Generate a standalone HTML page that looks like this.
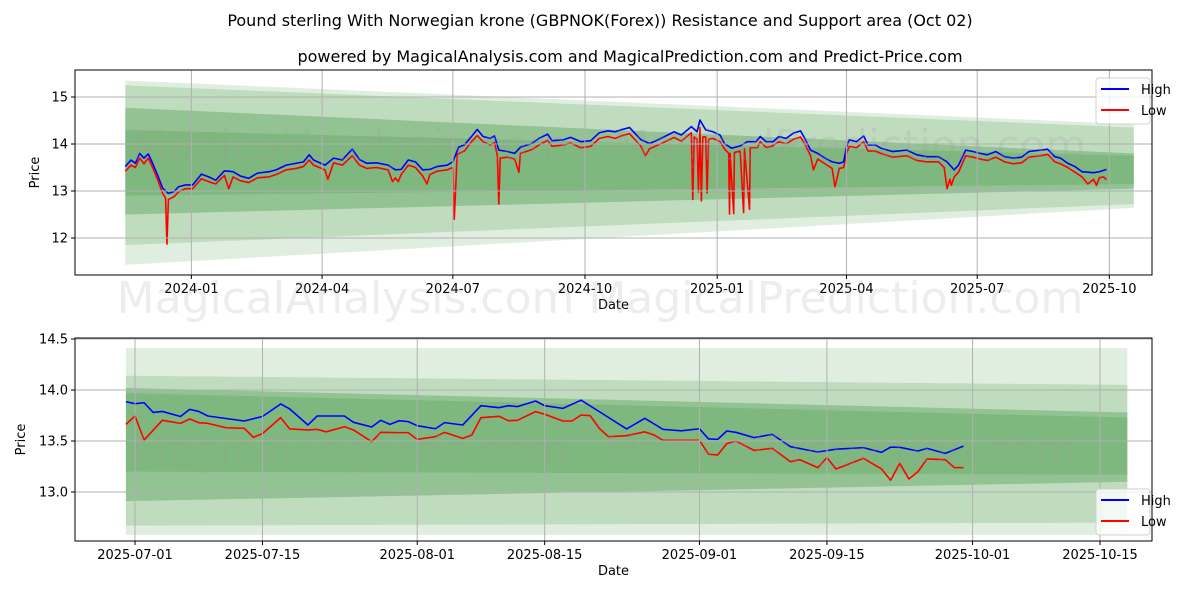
<!DOCTYPE html>
<html><head><meta charset="utf-8"><style>
body{margin:0;background:#fff;}
svg text{font-family:"DejaVu Sans","Liberation Sans",sans-serif;}
</style></head><body>
<svg id="chart" width="1200" height="600" viewBox="0 0 1200 600" xmlns="http://www.w3.org/2000/svg">
<text x="600" y="26" text-anchor="middle" font-size="16" fill="#000">Pound sterling With Norwegian krone (GBPNOK(Forex)) Resistance and Support area (Oct 02)</text>
<text x="630" y="62" text-anchor="middle" font-size="16" fill="#000">powered by MagicalAnalysis.com and MagicalPrediction.com and Predict-Price.com</text>
<g id="top"></g>
<g id="bottom"></g>
<text x="600" y="313" text-anchor="middle" font-size="44" fill="#999" fill-opacity="0.18">MagicalAnalysis.com   MagicalPrediction.com</text>
</svg>
<script>
// ---- top chart data (day offsets from 2023-11-16) ----
const topHighDays=[0,4,7,10,13,16,19,23,26,30,34,37,42,47,53,58,63,69,75,80,86,92,100,105,112,119,124,128,131,139,145,151,158,163,168,175,183,188,192,197,202,207,212,217,224,228,232,236,241,245,249,254,257,260,266,271,275,283,288,294,297,305,310,317,324,330,336,341,346,351,359,365,371,382,387,394,398,400,404,409,414,417,422,428,433,439,442,446,451,455,460,465,470,473,477,482,487,492,497,500,502,504,509,514,517,522,526,534,544,551,558,566,572,577,580,585,590,595,600,606,612,618,624,629,637,642,647,651,656,661,666,674,678,683];
const topHighVals=[13.52,13.66,13.59,13.80,13.70,13.79,13.59,13.30,13.06,12.95,12.99,13.09,13.13,13.13,13.36,13.30,13.23,13.43,13.41,13.32,13.27,13.38,13.41,13.45,13.55,13.59,13.62,13.77,13.66,13.55,13.70,13.66,13.89,13.67,13.59,13.60,13.55,13.45,13.46,13.66,13.62,13.45,13.46,13.52,13.55,13.62,13.93,13.98,14.16,14.31,14.16,14.12,14.17,13.87,13.84,13.80,13.93,14.01,14.12,14.21,14.07,14.09,14.14,14.05,14.07,14.24,14.28,14.26,14.31,14.35,14.09,14.01,14.09,14.26,14.19,14.37,14.26,14.51,14.30,14.26,14.19,14.01,13.91,13.96,14.05,14.05,14.16,14.05,14.05,14.16,14.12,14.23,14.28,14.12,13.87,13.80,13.70,13.62,13.59,13.62,13.94,14.09,14.05,14.17,13.98,13.98,13.91,13.84,13.87,13.77,13.73,13.73,13.62,13.45,13.55,13.87,13.84,13.80,13.77,13.84,13.73,13.70,13.72,13.84,13.87,13.89,13.73,13.70,13.59,13.52,13.41,13.39,13.41,13.46];
const topLowDays=[0,4,7,10,13,16,19,23,26,28,29,30,34,37,42,47,53,58,63,69,72,75,80,86,92,100,105,112,119,124,128,131,139,141,145,151,158,163,168,175,183,186,188,190,192,197,202,207,210,212,217,224,228,229,231,236,241,245,249,254,257,259,260,261,266,271,274,275,283,288,294,297,305,310,317,324,330,336,341,346,351,359,362,365,371,382,387,394,395,396,398,399,400,401,402,404,405,406,409,414,417,420,420.6,421,423.5,424,428,430.4,431,434.5,435,440,442,446,450,455,460,465,470,473,477,479,482,487,492,494,497,500,502,504,509,514,517,522,526,534,544,551,558,566,570,572,574,575,577,580,585,590,595,600,606,612,618,624,629,637,642,647,651,656,661,666,670,674,676,678,681,683];
const topLowVals=[13.42,13.55,13.50,13.70,13.58,13.70,13.50,13.20,12.95,12.85,11.87,12.82,12.88,12.98,13.05,13.05,13.26,13.20,13.15,13.33,13.05,13.30,13.22,13.18,13.28,13.30,13.35,13.45,13.48,13.52,13.66,13.55,13.45,13.25,13.60,13.55,13.75,13.55,13.48,13.50,13.45,13.20,13.28,13.20,13.35,13.55,13.50,13.32,13.15,13.35,13.42,13.45,13.50,12.40,13.78,13.85,14.05,14.18,14.05,13.98,14.03,13.75,12.72,13.70,13.72,13.68,13.40,13.80,13.88,13.98,14.08,13.95,13.98,14.02,13.92,13.95,14.12,14.16,14.12,14.18,14.22,13.95,13.75,13.90,13.98,14.14,14.06,14.24,12.82,14.15,14.10,12.98,14.35,12.79,14.15,14.15,12.96,14.10,14.12,14.05,13.90,13.80,12.51,13.80,12.52,13.82,13.85,12.54,13.90,12.61,13.92,13.92,14.05,13.93,13.95,14.05,14.00,14.10,14.15,14.00,13.75,13.45,13.68,13.58,13.48,13.09,13.48,13.50,13.80,13.95,13.92,14.05,13.85,13.85,13.80,13.72,13.75,13.65,13.62,13.62,13.50,13.05,13.25,13.12,13.30,13.40,13.75,13.72,13.68,13.65,13.72,13.62,13.58,13.60,13.72,13.75,13.78,13.62,13.58,13.50,13.40,13.30,13.15,13.25,13.12,13.28,13.30,13.24];
const topTickDays=[46,137,228,320,412,502,593,685];
const topTickLabels=["2024-01","2024-04","2024-07","2024-10","2025-01","2025-04","2025-07","2025-10"];
const topYTicks=[12,13,14,15];
const topBandDays=[0,702];
// bands: [startTop,startBottom,endTop,endBottom]
const topBand1=[15.35,11.43,14.42,12.64];
const topBand2=[15.25,11.85,14.35,12.72];
const topBand3=[14.77,12.50,13.80,13.05];
const topBand4=[14.30,12.90,13.75,13.15];
// ---- bottom chart data (day offsets from 2025-06-30) ----
const botHighDays=[0,1,2,3,4,6,7,8,9,13,15,17,18,20,21,24,25,27,28,29,30,31,32,34,35,37,39,41,42,43,45,46,48,50,52,55,57,59,61,63,64,65,66,67,69,71,73,76,78,81,83,84,85,87,88,90,92];
const botHighVals=[13.885,13.866,13.875,13.78,13.79,13.74,13.81,13.79,13.745,13.696,13.74,13.863,13.814,13.657,13.745,13.745,13.683,13.637,13.703,13.663,13.699,13.69,13.65,13.62,13.68,13.657,13.846,13.827,13.846,13.837,13.892,13.846,13.82,13.9,13.788,13.618,13.722,13.614,13.6,13.62,13.52,13.516,13.598,13.585,13.533,13.565,13.444,13.392,13.42,13.435,13.389,13.44,13.438,13.402,13.428,13.379,13.45];
const botLowDays=[0,1,2,4,6,7,8,9,11,13,14,15,17,18,20,21,22,24,25,27,28,30,31,32,34,35,37,38,39,41,42,43,45,46,48,49,50,51,52,53,55,57,58,59,62,63,64,65,66,67,69,71,72,73,74,76,77,78,81,83,84,85,86,87,88,90,91,92];
const botLowVals=[13.663,13.745,13.51,13.703,13.673,13.716,13.68,13.673,13.63,13.624,13.536,13.572,13.729,13.618,13.608,13.614,13.59,13.64,13.608,13.493,13.585,13.582,13.582,13.516,13.542,13.585,13.526,13.559,13.729,13.742,13.699,13.703,13.788,13.762,13.696,13.696,13.755,13.748,13.624,13.542,13.552,13.59,13.559,13.507,13.507,13.507,13.37,13.363,13.474,13.5,13.408,13.428,13.363,13.297,13.317,13.239,13.337,13.226,13.33,13.226,13.115,13.281,13.128,13.2,13.324,13.317,13.239,13.239];
const botTickDays=[1,15,32,46,63,77,93,107];
const botTickLabels=["2025-07-01","2025-07-15","2025-08-01","2025-08-15","2025-09-01","2025-09-15","2025-10-01","2025-10-15"];
const botYTicks=[13.0,13.5,14.0,14.5];
const botYTickLabels=["13.0","13.5","14.0","14.5"];
const botBandDays=[0,110];
const botBand1=[14.41,12.58,14.41,12.58];
const botBand2=[14.14,12.67,14.05,12.70];
const botBand3=[14.02,12.91,13.78,13.10];
const botBand4=[13.97,13.20,13.73,13.17];

const NS="http://www.w3.org/2000/svg";
function mk(parent,tag,attrs){const e=document.createElementNS(NS,tag);for(const k in attrs)e.setAttribute(k,attrs[k]);parent.appendChild(e);return e;}

function drawPanel(g,cfg){
  const L=75,R=1152,T=cfg.top,B=cfg.bottom;
  const xs=d=>cfg.x0+cfg.kx*d;
  const ys=v=>cfg.y0-(v-cfg.v0)*cfg.ky;
  const clip=mk(g,'clipPath',{id:cfg.id+'clip'});
  mk(clip,'rect',{x:L,y:T,width:R-L,height:B-T});
  const area=mk(g,'g',{'clip-path':'url(#'+cfg.id+'clip)'});
  const bandAlpha=[0.15,0.18,0.3,0.2];
  cfg.bands.forEach((b,i)=>{
    const x1=xs(cfg.bandDays[0]),x2=xs(cfg.bandDays[1]);
    const p=mk(area,'polygon',{points:`${x1},${ys(b[0])} ${x2},${ys(b[2])} ${x2},${ys(b[3])} ${x1},${ys(b[1])}`,fill:'#2e8b2e','fill-opacity':bandAlpha[i]});
    
    
  });
  // grid
  cfg.xTicks.forEach((d,i)=>{
    const x=xs(d);
    const gl=mk(g,'line',{x1:x,x2:x,y1:T,y2:B,stroke:'#b0b0b0','stroke-width':1});
    
    
    mk(g,'line',{x1:x,x2:x,y1:B,y2:B+4,stroke:'#000'});
    const t=mk(g,'text',{x:x,y:B+18,'text-anchor':'middle','font-size':13,fill:'#000'});
    t.textContent=cfg.xLabels[i];
    
    
  });
  cfg.yTicks.forEach((v,i)=>{
    const y=ys(v);
    const gl=mk(g,'line',{x1:L,x2:R,y1:y,y2:y,stroke:'#b0b0b0','stroke-width':1});
    
    
    mk(g,'line',{x1:L-4,x2:L,y1:y,y2:y,stroke:'#000'});
    const t=mk(g,'text',{x:L-7,y:y+4.5,'text-anchor':'end','font-size':13,fill:'#000'});
    t.textContent=cfg.yLabels[i];
    
    
  });
  cfg.watermarks.forEach(w=>{
    const t=mk(g,'text',{x:w[0],y:w[1],'text-anchor':'middle','font-size':42,fill:'#999','fill-opacity':0.18});
    t.textContent=w[2];
    
    
  });
  const line=(days,vals,color,name)=>{
    const p=mk(area,'polyline',{points:days.map((d,i)=>xs(d)+','+ys(vals[i])).join(' '),fill:'none',stroke:color,'stroke-width':1.6,'stroke-linejoin':'round'});
    
    
  };
  line(cfg.lowDays,cfg.lowVals,'#ff0000','low-line');
  line(cfg.highDays,cfg.highVals,'#0000ff','high-line');
  const fr=mk(g,'rect',{x:L,y:T,width:R-L,height:B-T,fill:'none',stroke:'#000','stroke-width':1});
  
  
  const xl=mk(g,'text',{x:(L+R)/2,y:B+34,'text-anchor':'middle','font-size':13,fill:'#000'});
  xl.textContent='Date';
  
  
  const yl=mk(g,'text',{x:0,y:0,'text-anchor':'middle','font-size':13,fill:'#000',transform:`translate(${cfg.yTitleX},${(T+B)/2}) rotate(-90)`});
  yl.textContent='Price';
  
  
  // legend
  const lg=mk(g,'g',{});
  
  
  const ly=cfg.legendY;
  mk(lg,'rect',{x:1096,y:ly,width:54,height:46,rx:3,fill:'#fff','fill-opacity':0.8,stroke:'#d0d0d0'});
  [['High','#0000ff'],['Low','#ff0000']].forEach((e,i)=>{
    const yy=ly+11+i*21;
    const le=mk(lg,'g',{});
    
    
    mk(le,'line',{x1:1101,x2:1129,y1:yy,y2:yy,stroke:e[1],'stroke-width':2});
    const t=mk(le,'text',{x:1141,y:yy+5,'font-size':13,fill:'#000'});
    t.textContent=e[0];
  });
}

drawPanel(document.getElementById('top'),{id:'top',top:70,bottom:275,x0:125.3,kx:1.4366,y0:144,v0:14,ky:47,
  bands:[topBand1,topBand2,topBand3,topBand4],bandDays:topBandDays,
  xTicks:topTickDays,xLabels:topTickLabels,yTicks:topYTicks,yLabels:topYTicks.map(String),
  highDays:topHighDays,highVals:topHighVals,lowDays:topLowDays,lowVals:topLowVals,
  watermarks:[[350,160,'MagicalAnalysis.com'],[850,160,'MagicalPrediction.com']],legendY:78,yTitleX:39});
drawPanel(document.getElementById('bottom'),{id:'bot',top:338,bottom:541,x0:125.9,kx:9.104,y0:390,v0:14,ky:102,
  bands:[botBand1,botBand2,botBand3,botBand4],bandDays:botBandDays,
  xTicks:botTickDays,xLabels:botTickLabels,yTicks:botYTicks,yLabels:botYTickLabels,
  highDays:botHighDays,highVals:botHighVals,lowDays:botLowDays,lowVals:botLowVals,
  watermarks:[[350,465,'MagicalAnalysis.com'],[840,465,'MagicalPrediction.com']],legendY:489,yTitleX:25});
</script>
</body></html>
